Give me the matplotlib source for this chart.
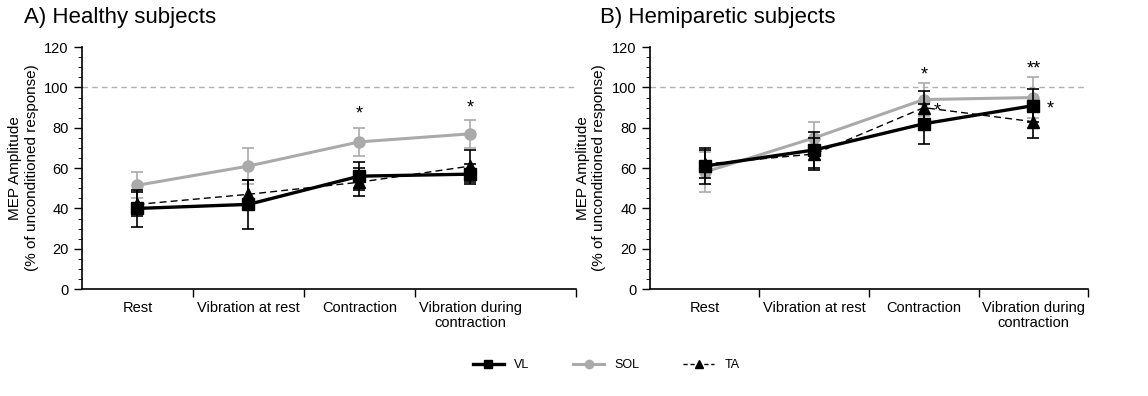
import matplotlib
matplotlib.use("Agg")
import matplotlib.pyplot as plt
from matplotlib.ticker import MultipleLocator
from matplotlib.lines import Line2D
import numpy as np

plt.rcParams['font.family'] = ['Liberation Sans', 'DejaVu Sans']

categories = ["Rest", "Vibration at rest", "Contraction", "Vibration during\ncontraction"]

# A) Healthy subjects
healthy_vl = [40, 42, 56, 57]
healthy_vl_err = [9, 12, 7, 5]
healthy_sol = [51.5, 61, 73, 77]
healthy_sol_err = [6.5, 9, 7, 7]
healthy_ta = [42, 47, 53, 61]
healthy_ta_err = [6, 7, 7, 8]

# B) Hemiparetic subjects
hemi_vl = [61, 69, 82, 91]
hemi_vl_err = [9, 9, 10, 8]
hemi_sol = [58, 75, 94, 95]
hemi_sol_err = [10, 8, 8, 10]
hemi_ta = [62, 67, 90, 83]
hemi_ta_err = [7, 8, 8, 8]

# significance marks: (x, y, text)
healthy_stars = [(2, 87, "*"), (3, 90, "*")]
hemi_stars = [(2, 106, "*"), (3, 109, "**"), (2.12, 88.5, "*"), (3.15, 89.5, "*")]

BLACK = "#000000"
GREY = "#aaaaaa"

fig = plt.figure(figsize=(11.48, 3.96), dpi=100)
ax1 = fig.add_axes([0.0714, 0.270, 0.430, 0.611])
ax2 = fig.add_axes([0.566, 0.270, 0.382, 0.611])


def draw_panel(ax, vl, vle, sol, sole, ta, tae, stars, xmax):
    x = np.arange(len(categories))
    ax.axhline(100, color="#b0b0b0", lw=1, ls=(0, (4, 3)), zorder=0)
    ax.errorbar(x, sol, yerr=sole, color=GREY, lw=2.2, marker="o", ms=8,
                capsize=4, elinewidth=1.2, capthick=1.2, zorder=2)
    ax.errorbar(x, ta, yerr=tae, color=BLACK, lw=1, ls=(0, (5, 3)), marker="^", ms=8,
                capsize=4, elinewidth=1.2, capthick=1.2, zorder=3)
    ax.errorbar(x, vl, yerr=vle, color=BLACK, lw=2.4, marker="s", ms=8,
                capsize=4, elinewidth=1.2, capthick=1.2, zorder=4)
    for sx, sy, s in stars:
        ax.text(sx, sy, s, ha="center", va="center", fontsize=13)

    ax.set_xlim(-0.5, xmax)
    ax.set_ylim(0, 120)
    ax.yaxis.set_major_locator(MultipleLocator(20))
    ax.yaxis.set_minor_locator(MultipleLocator(5))
    ax.set_xticks([0.5, 1.5, 2.5, xmax])
    ax.set_xticklabels([])
    ax.tick_params(axis="both", direction="out", width=1, length=6, labelsize=10.5)
    ax.tick_params(axis="y", which="minor", length=3)
    for sp in ["top", "right"]:
        ax.spines[sp].set_visible(False)
    for sp in ["left", "bottom"]:
        ax.spines[sp].set_linewidth(1.2)
    for i, c in enumerate(categories):
        ax.text(i, -6, c, ha="center", va="top", fontsize=10.5, linespacing=1.1)
    ax.set_ylabel("MEP Amplitude\n(% of unconditioned response)", fontsize=11)


draw_panel(ax1, healthy_vl, healthy_vl_err, healthy_sol, healthy_sol_err,
           healthy_ta, healthy_ta_err, healthy_stars, 3.95)
draw_panel(ax2, hemi_vl, hemi_vl_err, hemi_sol, hemi_sol_err,
           hemi_ta, hemi_ta_err, hemi_stars, 3.5)

fig.text(0.021, 0.955, "A) Healthy subjects", fontsize=16, ha="left", va="center")
fig.text(0.523, 0.955, "B) Hemiparetic subjects", fontsize=16, ha="left", va="center")

handles = [
    Line2D([], [], color=BLACK, lw=2.4, marker="s", ms=6),
    Line2D([], [], color=GREY, lw=2.2, marker="o", ms=6),
    Line2D([], [], color=BLACK, lw=1, ls=(0, (3, 2)), marker="^", ms=6),
]
fig.legend(handles, ["VL", "SOL", "TA"],
           loc="center", bbox_to_anchor=(0.528, 0.078), ncol=3, frameon=False,
           fontsize=9, handlelength=2.5, columnspacing=3.5)

fig.savefig("out.png", dpi=100)
